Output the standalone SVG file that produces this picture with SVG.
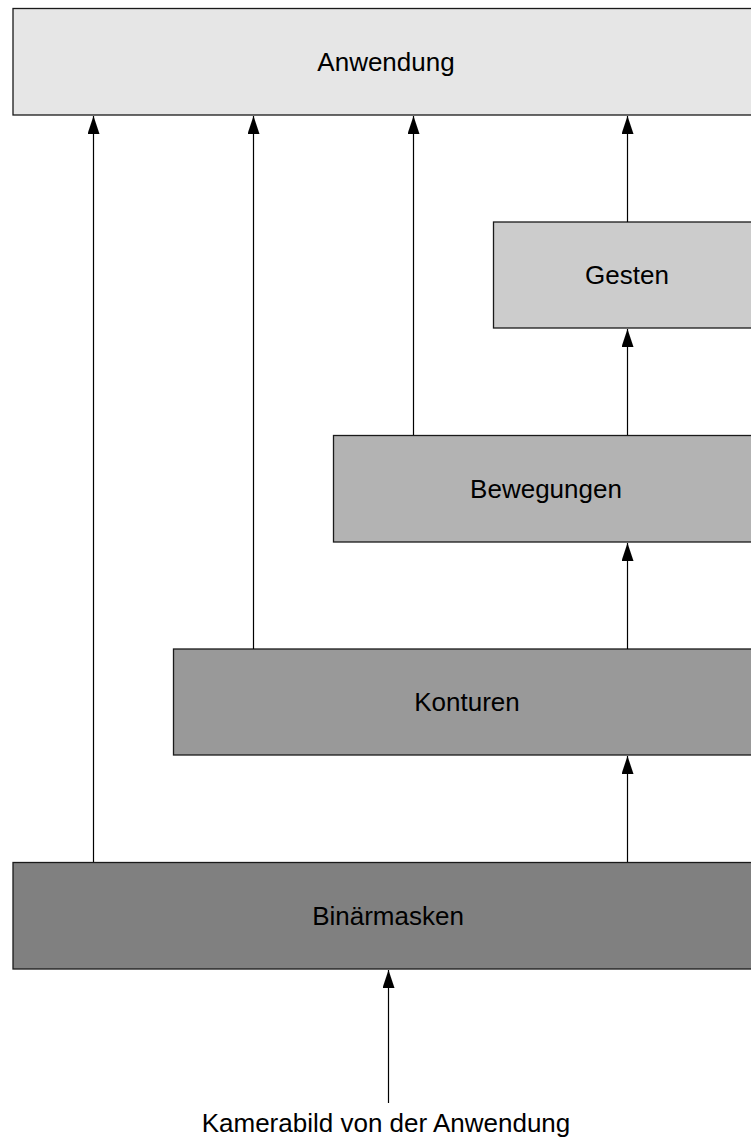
<svg xmlns="http://www.w3.org/2000/svg" width="751" height="1142" viewBox="0 0 751 1142">
<style>
.box{stroke:#1a1a1a;stroke-width:1.3}
.lbl{font-family:"Liberation Sans",Arial,sans-serif;font-size:26px;fill:#000;text-anchor:middle}
.con{stroke:#000;stroke-width:1.2;fill:none;marker-end:url(#ah)}
</style>
<defs>
<marker id="ah" viewBox="0 0 18 12" refX="18" refY="6" markerWidth="18" markerHeight="12" markerUnits="userSpaceOnUse" orient="auto">
<path d="M0,0 L18,6 L0,12 Z" fill="#000"/>
</marker>
</defs>
<g id="anwendung"><rect class="box" x="13" y="8.5" width="750" height="106.5" fill="#e6e6e6"/><text class="lbl" x="386" y="71">Anwendung</text></g>
<g id="gesten"><rect class="box" x="493.5" y="222" width="270" height="106" fill="#cccccc"/><text class="lbl" x="627" y="284">Gesten</text></g>
<g id="bewegungen"><rect class="box" x="333.5" y="435.5" width="430" height="106.5" fill="#b3b3b3"/><text class="lbl" x="546" y="498">Bewegungen</text></g>
<g id="konturen"><rect class="box" x="173.5" y="649" width="590" height="106" fill="#999999"/><text class="lbl" x="467" y="711">Konturen</text></g>
<g id="binaermasken"><rect class="box" x="13" y="862.5" width="750" height="106.5" fill="#808080"/><text class="lbl" x="388" y="925">Binärmasken</text></g>
<g id="kamerabild"><text class="lbl" x="386" y="1132">Kamerabild von der Anwendung</text></g>
<g id="connectors">
<line class="con" x1="93.5" y1="862" x2="93.5" y2="116"/>
<line class="con" x1="253.5" y1="649" x2="253.5" y2="116"/>
<line class="con" x1="413.5" y1="435" x2="413.5" y2="116"/>
<line class="con" x1="627.5" y1="222" x2="627.5" y2="116"/>
<line class="con" x1="627.5" y1="435" x2="627.5" y2="329"/>
<line class="con" x1="627.5" y1="649" x2="627.5" y2="543"/>
<line class="con" x1="627.5" y1="862" x2="627.5" y2="756"/>
<line class="con" x1="388.5" y1="1103" x2="388.5" y2="970"/>
</g>
</svg>
